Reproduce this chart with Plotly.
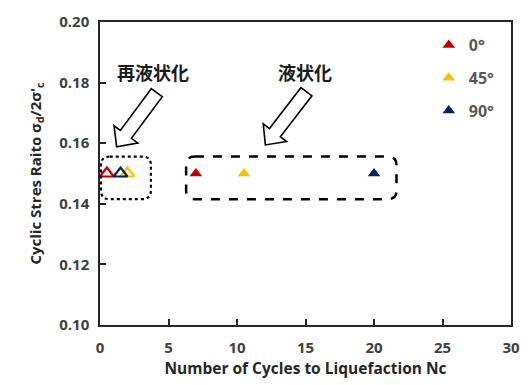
import plotly.graph_objects as go

# Cyclic stress ratio vs. cycles to liquefaction
orientations = ["0°", "45°", "90°"]
colors = ["#C00000", "#FFC000", "#002060"]
csr = [0.15, 0.15, 0.15]
nc_liquefaction = [7.0, 10.5, 20.0]      # first liquefaction (filled)
nc_reliquefaction = [0.5, 2.0, 1.5]      # re-liquefaction (hollow)

x_ticks = [0, 5, 10, 15, 20, 25, 30]
y_ticks = [0.10, 0.12, 0.14, 0.16, 0.18, 0.20]

W, H = 531, 385
ML, MR, MT, MB = 100, 11, 18, 54
PW, PH = W - ML - MR, H - MT - MB
XR, YR = (0, 30), (0.10, 0.20)


def to_data(px, py):
    x = XR[0] + (px - ML) / PW * (XR[1] - XR[0])
    y = YR[1] - (py - MT) / PH * (YR[1] - YR[0])
    return x, y


def path_from_px(cmds):
    out = []
    for c in cmds:
        op, pts = c[0], c[1:]
        coords = " ".join("%.5f,%.6f" % to_data(*p) for p in pts)
        out.append(op + coords)
    return " ".join(out) + " Z"


def rounded_rect(x0, y0, x1, y1, r):
    return path_from_px([
        ("M", (x0 + r, y0)), ("L", (x1 - r, y0)), ("Q", (x1, y0), (x1, y0 + r)),
        ("L", (x1, y1 - r)), ("Q", (x1, y1), (x1 - r, y1)),
        ("L", (x0 + r, y1)), ("Q", (x0, y1), (x0, y1 - r)),
        ("L", (x0, y0 + r)), ("Q", (x0, y0), (x0 + r, y0)),
    ])


def block_arrow(tail, tip, w=7, hw=14, hl=15):
    tx, ty = tail
    hx, hy = tip
    L = ((hx - tx) ** 2 + (hy - ty) ** 2) ** 0.5
    dx, dy = (hx - tx) / L, (hy - ty) / L
    nx, ny = -dy, dx
    sx, sy = hx - dx * hl, hy - dy * hl
    pts = [
        (tx + nx * w, ty + ny * w), (sx + nx * w, sy + ny * w),
        (sx + nx * hw, sy + ny * hw), (hx, hy),
        (sx - nx * hw, sy - ny * hw), (sx - nx * w, sy - ny * w),
        (tx - nx * w, ty - ny * w),
    ]
    return path_from_px([("M", pts[0])] + [("L", p) for p in pts[1:]])


fig = go.Figure()

for name, col, xv, yv in zip(orientations, colors, nc_liquefaction, csr):
    fig.add_trace(go.Scatter(
        x=[xv], y=[yv], mode="markers", name="<b>%s</b>" % name, legendgroup=name,
        marker=dict(symbol="triangle-up", size=11, color=col),
    ))

for name, col, xv, yv in zip(orientations, colors, nc_reliquefaction, csr):
    fig.add_trace(go.Scatter(
        x=[xv], y=[yv], mode="markers", name=name, showlegend=False,
        marker=dict(symbol="triangle-up-open", size=12, color=col,
                    line=dict(width=2.2, color=col)),
    ))

shapes = [
    dict(type="path", path=rounded_rect(101, 157, 152, 201, 9),
         line=dict(color="black", width=2.2, dash="dot")),
    dict(type="path", path=rounded_rect(188, 157, 403, 201, 9),
         line=dict(color="black", width=2.5, dash="dash")),
    dict(type="path", path=block_arrow((158, 91), (117, 147), w=7, hw=15, hl=16),
         line=dict(color="black", width=1.6), fillcolor="white"),
    dict(type="path", path=block_arrow((311, 90), (269, 145), w=7, hw=15, hl=16),
         line=dict(color="black", width=1.6), fillcolor="white"),
]
for s in shapes:
    s.update(xref="x", yref="y", layer="above")

font_family = "Open Sans, sans-serif"
jp_font = "Noto Sans CJK JP"
annotations = [
    dict(text="<b>再液状化</b>", x=to_data(154, 70)[0], y=to_data(154, 70)[1],
         xref="x", yref="y", showarrow=False,
         font=dict(size=18, color="#1a1a1a", family=jp_font)),
    dict(text="<b>液状化</b>", x=to_data(309, 70)[0], y=to_data(309, 70)[1],
         xref="x", yref="y", showarrow=False,
         font=dict(size=18, color="#1a1a1a", family=jp_font)),
]

axis_common = dict(
    showline=True, linecolor="#262626", linewidth=1.5, mirror=True,
    ticks="inside", ticklen=6, tickcolor="#262626", tickwidth=1.5,
    showgrid=False, zeroline=False,
    tickfont=dict(size=15, color="#404040", family=font_family),
)

fig.update_layout(
    width=W, height=H,
    margin=dict(l=ML, r=MR, t=MT, b=MB),
    plot_bgcolor="white", paper_bgcolor="white",
    font=dict(family=font_family),
    xaxis=dict(range=list(XR), tickvals=x_ticks,
               ticktext=["<b>%d</b>" % v for v in x_ticks],
               ticklabelstandoff=8,
               title=dict(text="<b>Number of Cycles to Liquefaction Nc</b>",
                          font=dict(size=15.5, color="#262626"), standoff=6),
               **axis_common),
    yaxis=dict(range=list(YR), tickvals=y_ticks,
               ticktext=["<b>%.2f</b>" % v for v in y_ticks],
               ticklabelstandoff=6,
               title=dict(text="<b>Cyclic Stres Raito σ<sub>d</sub>/2σ'<sub>c</sub></b>",
                          font=dict(size=15, color="#262626"), standoff=14),
               **axis_common),
    legend=dict(x=0.80, y=0.98, xanchor="left", yanchor="top",
                bgcolor="rgba(0,0,0,0)", tracegroupgap=9,
                font=dict(size=16, color="#595959", family=font_family),
                itemwidth=30),
    shapes=shapes,
    annotations=annotations,
    showlegend=True,
)

fig.write_html("out.html")
